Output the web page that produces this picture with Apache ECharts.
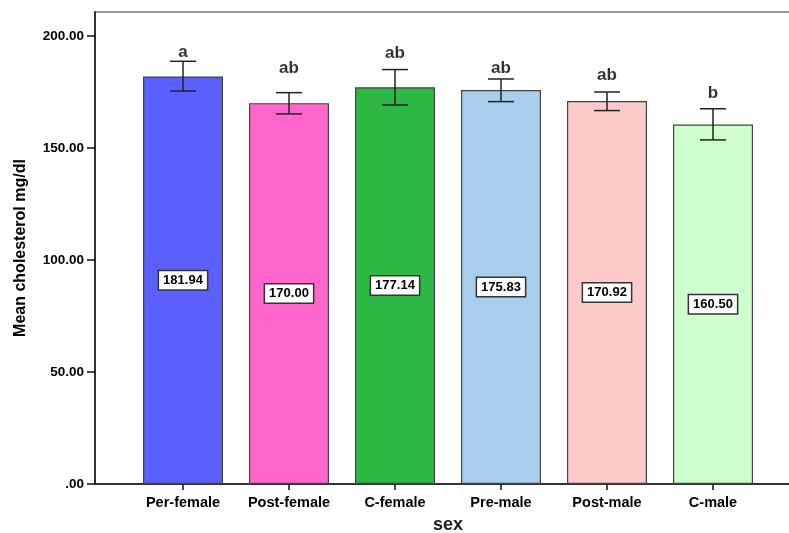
<!DOCTYPE html>
<html>
<head>
<meta charset="utf-8">
<script src="https://cdn.jsdelivr.net/npm/echarts@6/dist/echarts.min.js"></script>
<style>
  html, body { margin: 0; padding: 0; background: #fff; }
  #chart { width: 789px; height: 533px; }
</style>
</head>
<body>
<div id="chart"></div>
<script>
var categories = ['Per-female', 'Post-female', 'C-female', 'Pre-male', 'Post-male', 'C-male'];
var means = [181.94, 170.00, 177.14, 175.83, 170.92, 160.50];
var errHigh = [188.7, 174.7, 185.0, 180.8, 175.0, 167.5];
var errLow = [175.4, 165.2, 169.2, 170.7, 166.7, 153.6];
var letters = ['a', 'ab', 'ab', 'ab', 'ab', 'b'];
var letterPos = [192.9, 185.7, 192.4, 185.7, 182.6, 174.6];
var barColors = ['#5b5ffd', '#fe66cc', '#2db744', '#a9cdec', '#fecbcb', '#cdfecc'];
var yTicks = [0, 50, 100, 150, 200];
var yMax = 210.7;

function getCholesterolChart() {
    var box = document.getElementById('chart')
    var chart = echarts.init(box)
    var font = '"Liberation Sans", Arial, sans-serif'
    let option = {
        animation: false,
        textStyle: { fontFamily: font },
        grid: [
            { left: 95, right: -3, top: 12, bottom: 49, show: true, borderColor: '#999', borderWidth: 2, outerBoundsMode: 'none', containLabel: false },
            { left: 130, right: 23, top: 12, bottom: 49, outerBoundsMode: 'none', containLabel: false }
        ],
        xAxis: [
            {
                gridIndex: 0, type: 'value', min: 0, max: 1,
                axisLine: { show: true, lineStyle: { color: '#111', width: 1.5 } },
                axisTick: { show: false }, axisLabel: { show: false }, splitLine: { show: false }
            },
            {
                gridIndex: 1, type: 'category', data: categories,
                axisLine: { show: false },
                axisTick: { show: true, alignWithLabel: true, length: 6, lineStyle: { color: '#111', width: 1.5 } },
                axisLabel: { interval: 0, color: '#000', fontWeight: 'bold', fontSize: 14.5, margin: 11 },
                name: 'sex', nameLocation: 'middle', nameGap: 32,
                nameTextStyle: { color: '#222', fontWeight: 'bold', fontSize: 18 }
            }
        ],
        yAxis: [
            {
                gridIndex: 0, type: 'value', min: 0, max: yMax,
                axisLine: { show: true, lineStyle: { color: '#111', width: 1.5 } },
                axisTick: { show: true, length: 8, customValues: yTicks, lineStyle: { color: '#111', width: 1.5 } },
                axisLabel: {
                    customValues: yTicks, margin: 11, color: '#000', fontWeight: 'bold', fontSize: 13.5,
                    formatter: function (v) { return v === 0 ? '.00' : v.toFixed(2) }
                },
                splitLine: { show: false },
                name: 'Mean cholesterol mg/dl', nameLocation: 'middle', nameRotate: 90, nameGap: 66,
                nameTextStyle: { color: '#000', fontWeight: 'bold', fontSize: 16 }
            },
            { gridIndex: 1, type: 'value', min: 0, max: yMax, show: false }
        ],
        series: [
            {
                type: 'bar', xAxisIndex: 1, yAxisIndex: 1,
                barWidth: 80,
                data: means.map(function (v, i) {
                    return { value: v, itemStyle: { color: barColors[i] } }
                }),
                itemStyle: { borderColor: '#444', borderWidth: 1.2 },
                label: {
                    show: true, position: 'inside',
                    formatter: function (p) { return p.value.toFixed(2) },
                    color: '#000', fontWeight: 'bold', fontSize: 13,
                    backgroundColor: '#fff', borderColor: '#333', borderWidth: 1.5,
                    padding: [3, 4, 2, 4]
                }
            },
            {
                type: 'custom', xAxisIndex: 1, yAxisIndex: 1, z: 5,
                data: categories.map(function (c, i) { return [i, errHigh[i], errLow[i]] }),
                encode: { x: 0, y: [1, 2] },
                renderItem: function (params, api) {
                    var x = api.value(0)
                    var hi = api.coord([x, api.value(1)])
                    var lo = api.coord([x, api.value(2)])
                    var w = 13
                    var st = { stroke: '#222', lineWidth: 1.5 }
                    return {
                        type: 'group',
                        children: [
                            { type: 'line', shape: { x1: hi[0], y1: hi[1], x2: lo[0], y2: lo[1] }, style: st },
                            { type: 'line', shape: { x1: hi[0] - w, y1: hi[1], x2: hi[0] + w, y2: hi[1] }, style: st },
                            { type: 'line', shape: { x1: lo[0] - w, y1: lo[1], x2: lo[0] + w, y2: lo[1] }, style: st }
                        ]
                    }
                }
            },
            {
                type: 'scatter', xAxisIndex: 1, yAxisIndex: 1, symbolSize: 0, z: 6,
                data: letterPos,
                label: {
                    show: true, position: 'inside',
                    formatter: function (p) { return letters[p.dataIndex] },
                    color: '#000', textBorderWidth: 0, fontWeight: 'bold', fontSize: 17
                }
            }
        ]
    };
    chart.setOption(option)
}
getCholesterolChart()
</script>
</body>
</html>
